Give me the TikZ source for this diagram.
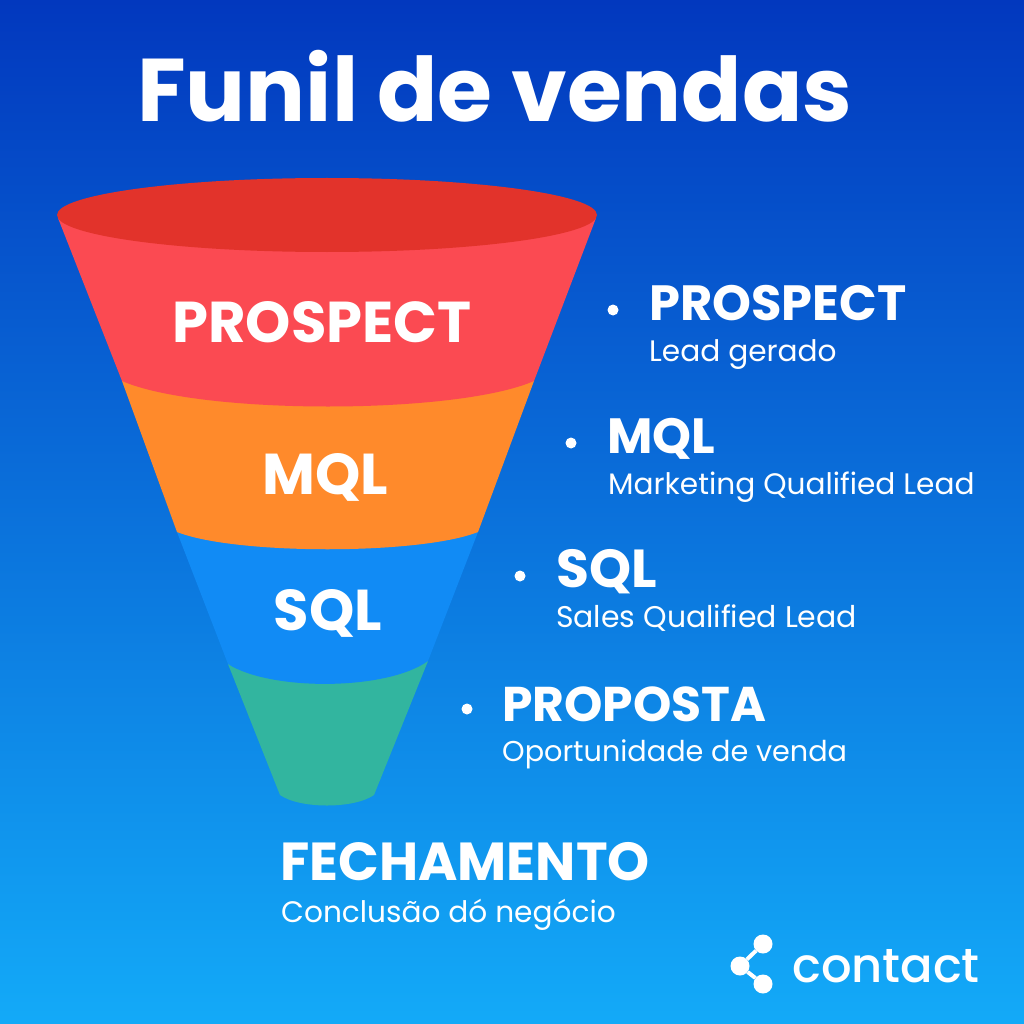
\documentclass[tikz,border=0pt]{standalone}
\usepackage{fontspec}
\setmainfont{Poppins}
\newfontfamily\logofont{Poppins Medium}
\usetikzlibrary{positioning}
\definecolor{skytop}{RGB}{2,56,190}
\definecolor{skymid}{RGB}{6,108,220}
\definecolor{skylow}{RGB}{19,170,248}
\definecolor{redband}{RGB}{251,74,82}
\definecolor{redrim}{RGB}{226,51,43}
\definecolor{orangeband}{RGB}{255,138,43}
\definecolor{blueband}{RGB}{17,139,245}
\definecolor{greenband}{RGB}{50,181,159}
\tikzset{
  headlabel/.style={text=white, anchor=base west, inner sep=0pt, font=\fontsize{49.5}{50}\selectfont\bfseries},
  biglabel/.style={text=white, anchor=base west, inner sep=0pt, font=\fontsize{53.5}{54}\selectfont\bfseries},
  sublabel/.style={text=white, anchor=base west, inner sep=0pt, font=\fontsize{29.6}{30}\selectfont},
  bandlabel/.style={text=white, inner sep=0pt, anchor=base, font=\fontsize{57.6}{58}\selectfont\bfseries},
  bullet/.style={circle, fill=white, inner sep=0pt, minimum size=11pt},
  logodot/.style={circle, fill=white, inner sep=0pt, minimum size=19pt}
}
\begin{document}
\begin{tikzpicture}[x=1pt,y=-1pt]
            \useasboundingbox (0,0) rectangle (1024,1024);
            %Background
            \shade[top color=skytop, middle color=skymid, bottom color=skylow] (0,0) rectangle (1024,1024);

            %Funnel
            \fill[greenband] (228,664) -- (280,795) .. controls (300,809) and (354,809) .. (374,795) -- (428,661) -- cycle;
            \fill[blueband] (177,532) -- (228,664) .. controls (270,691) and (386,691) .. (428,661) -- (478,532) -- cycle;
            \fill[orangeband] (122,381) -- (177,532) .. controls (235,555) and (420,555) .. (478,532) -- (534,381) -- cycle;
            \fill[redband] (58,218) -- (122,381) .. controls (200,415) and (456,415) .. (534,381) -- (596,218) -- cycle;
            \fill[redrim] (327,215) ellipse [x radius=270, y radius=37];

            %Nodes
            \node[text=white, inner sep=0pt, anchor=base west, font=\fontsize{89}{90}\selectfont\bfseries] at (137,122) (title) {Funil de vendas};

            \node[bandlabel] at (322,342) (prospectband) {PROSPECT};
            \node[bandlabel] at (325,494) (mqlband) {MQL};
            \node[bandlabel] at (328,630) (sqlband) {SQL};

            \node[bullet] at (613,310) (prospectdot) {};
            \node[headlabel] at (649,320) (prospect) {PROSPECT};
            \node[sublabel] at (649,361) (prospectsub) {Lead gerado};

            \node[bullet] at (571,443) (mqldot) {};
            \node[headlabel] at (607,453) (mql) {MQL};
            \node[sublabel] at (608,494) (mqlsub) {Marketing Qualified Lead};

            \node[bullet] at (520,576) (sqldot) {};
            \node[biglabel] at (556,587) (sql) {SQL};
            \node[sublabel, font=\fontsize{29.9}{30}\selectfont] at (556,627) (sqlsub) {Sales Qualified Lead};

            \node[bullet] at (467,709) (propostadot) {};
            \node[headlabel, font=\fontsize{48.8}{50}\selectfont\bfseries] at (502,721) (proposta) {PROPOSTA};
            \node[sublabel, font=\fontsize{28.7}{30}\selectfont] at (502,761) (propostasub) {Oportunidade de venda};

            \node[biglabel] at (280,880) (fechamento) {FECHAMENTO};
            \node[sublabel] at (281,922) (fechamentosub) {Conclusão dó negócio};

            \node[logodot] at (763,944) (logotop) {};
            \node[logodot] at (740,966) (logomid) {};
            \node[logodot] at (763,984) (logolow) {};
            \node[text=white, inner sep=0pt, anchor=base west, font=\fontsize{48}{48}\logofont] at (792,982) (contact) {contact};

            %Lines
            \draw[white, line width=4pt] (logomid) -- (logotop);
            \draw[white, line width=4pt] (logomid) -- (logolow);
        \end{tikzpicture}
\end{document}
